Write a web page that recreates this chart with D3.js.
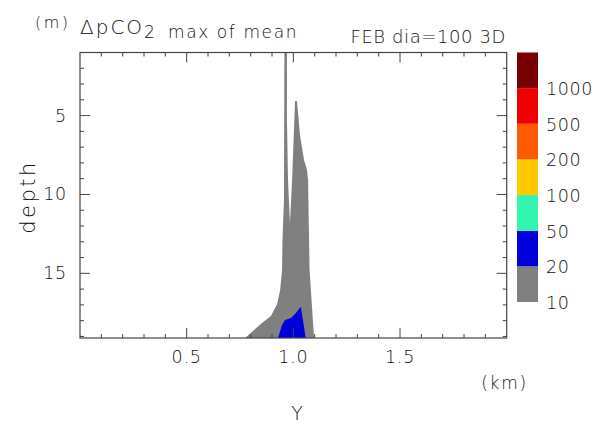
<!DOCTYPE html>
<html>
<head>
<meta charset="utf-8">
<script src="https://cdn.jsdelivr.net/npm/d3@7"></script>
<style>
  body { margin: 0; background: #fff; }
  svg { font-family: "DejaVu Sans", sans-serif; font-weight: 200; }
</style>
</head>
<body>
<svg id="chart" width="598" height="424"></svg>
<script>
// outline of the 10-20 band (km, depth m)
const grayOutline = [
  [0.774, 19.1], [0.853, 18.15], [0.895, 17.7], [0.924, 16.94], [0.938, 16.06],
  [0.947, 14.79], [0.949, 12.89], [0.956, 10.35], [0.958, 1.0], [0.970, 1.0],
  [0.970, 5.28], [0.975, 9.08], [0.984, 11.81], [0.994, 9.08], [1.008, 4.08],
  [1.017, 4.08], [1.031, 6.23], [1.050, 7.82], [1.064, 8.45], [1.069, 9.08],
  [1.076, 14.79], [1.097, 19.1]
];
// outline of the 20-50 band
const blueOutline = [
  [0.928, 19.1], [0.947, 18.28], [0.961, 17.96], [0.989, 17.83], [1.008, 17.58],
  [1.035, 17.12], [1.058, 19.1]
];

const levels = [10, 20, 50, 100, 200, 500, 1000];
const levelColors = ["#808080", "#0000dc", "#32f5af", "#ffc800", "#ff5a00", "#ee0000", "#780000"];
const xTicks = [0.5, 1.0, 1.5];
const yTicks = [5, 10, 15];

const svg = d3.select("#chart");
const txt = "#111";

const x = d3.scaleLinear().domain([0, 2]).range([80, 506.7]);
const y = d3.scaleLinear().domain([1, 19.1]).range([52.5, 338]);

// filled contours
const line = d3.line().x(d => x(d[0])).y(d => y(d[1]));
svg.append("path").attr("d", line(grayOutline) + "Z").attr("fill", levelColors[0]);
svg.append("path").attr("d", line(blueOutline) + "Z").attr("fill", levelColors[1]);

// frame
svg.append("rect")
  .attr("x", x(0)).attr("y", y(1))
  .attr("width", x(2) - x(0)).attr("height", y(19.1) - y(1))
  .attr("fill", "none").attr("stroke", "#444").attr("stroke-width", 1.2);

// ticks, drawn inward on all four sides
const ticks = svg.append("g").attr("stroke", "#444").attr("stroke-width", 1);
d3.range(1, 20).map(i => i / 10).forEach(v => {
  const len = Math.abs(v * 2 - Math.round(v * 2)) < 1e-6 ? 10 : 4;
  ticks.append("line").attr("x1", x(v)).attr("x2", x(v)).attr("y1", y(19.1)).attr("y2", y(19.1) - len);
  ticks.append("line").attr("x1", x(v)).attr("x2", x(v)).attr("y1", y(1)).attr("y2", y(1) + len);
});
d3.range(2, 20).forEach(v => {
  const len = v % 5 === 0 ? 10 : 4;
  ticks.append("line").attr("x1", x(0)).attr("x2", x(0) + len).attr("y1", y(v)).attr("y2", y(v));
  ticks.append("line").attr("x1", x(2)).attr("x2", x(2) - len).attr("y1", y(v)).attr("y2", y(v));
});

// tick labels
svg.selectAll(".xl").data(xTicks).enter().append("text")
  .attr("x", d => x(d)).attr("y", 363)
  .attr("text-anchor", "middle").attr("font-size", 17.5).attr("letter-spacing", 0.8).attr("fill", txt)
  .text(d => d.toFixed(1));
svg.selectAll(".yl").data(yTicks).enter().append("text")
  .attr("x", 67).attr("y", d => y(d) + 6)
  .attr("text-anchor", "end").attr("font-size", 17.5).attr("letter-spacing", 0.8).attr("fill", txt)
  .text(d => d);

// axis titles
svg.append("text").attr("transform", "translate(35,197) rotate(-90)")
  .attr("text-anchor", "middle").attr("font-size", 21).attr("letter-spacing", 2.5).attr("fill", txt).text("depth");
svg.append("text").attr("x", 297).attr("y", 420)
  .attr("text-anchor", "middle").attr("font-size", 19).attr("fill", txt).text("Y");
svg.append("text").attr("x", 528).attr("y", 389)
  .attr("text-anchor", "end").attr("font-size", 17).attr("letter-spacing", 1.8).attr("fill", txt).text("(km)");

// title
svg.append("text").attr("x", 35).attr("y", 28).attr("font-size", 16).attr("letter-spacing", 2.5).attr("fill", txt).text("(m)");
const title = svg.append("text").attr("x", 80).attr("y", 34).attr("fill", txt);
title.append("tspan").attr("font-size", 20).attr("letter-spacing", 2).text("ΔpCO");
title.append("tspan").attr("font-size", 17).attr("dy", 4).text("2");
title.append("tspan").attr("font-size", 17).attr("letter-spacing", 1.6).attr("x", 168).text("max of mean");
svg.append("text").attr("x", 506).attr("y", 43)
  .attr("text-anchor", "end").attr("font-size", 18).attr("letter-spacing", 0.6).attr("fill", txt).text("FEB dia=100 3D");

// colour bar
const cb = d3.scaleBand().domain(d3.range(levels.length)).range([302, 52.5]);
svg.selectAll(".cb").data(levels).enter().append("rect")
  .attr("x", 517).attr("width", 21)
  .attr("y", (d, i) => cb(i)).attr("height", cb.bandwidth())
  .attr("fill", (d, i) => levelColors[i]);
svg.selectAll(".cbl").data(levels).enter().append("text")
  .attr("x", 546).attr("y", (d, i) => cb(i) + cb.bandwidth() + 7)
  .attr("font-size", 17.5).attr("letter-spacing", 0.6).attr("fill", txt)
  .text(d => d);
</script>
</body>
</html>
